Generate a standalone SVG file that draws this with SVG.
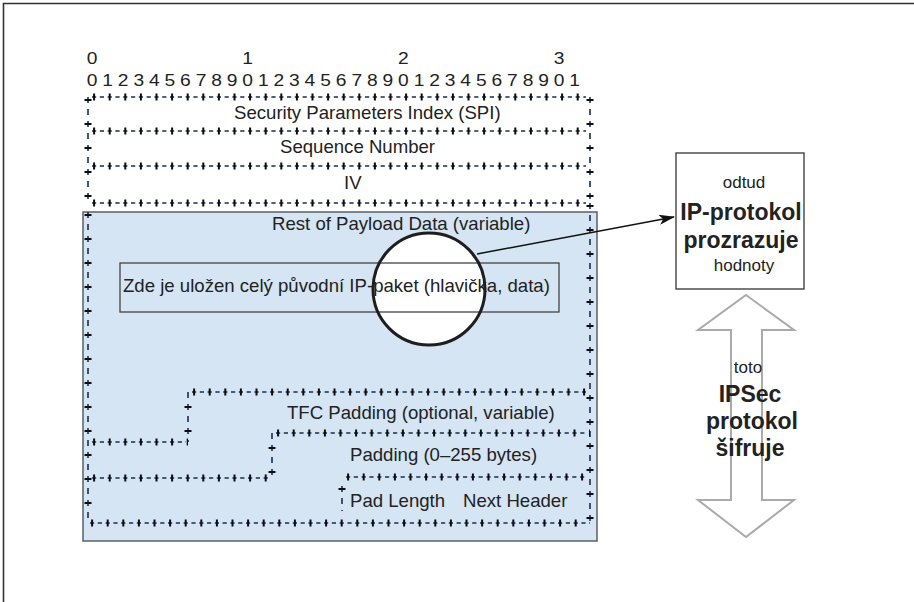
<svg xmlns="http://www.w3.org/2000/svg" width="914" height="602" viewBox="0 0 914 602">
<defs>
<style>
text{font-family:"Liberation Sans",Arial,Helvetica,sans-serif;fill:#222}
.num{font-size:16px;text-anchor:middle}
.lbl{font-size:18.6px}
.h{stroke:#1b2d4e;stroke-width:1.5;stroke-dasharray:4.2 3.6;fill:none}
.ht{stroke:#0d0d0d;stroke-width:7;stroke-dasharray:2 13.6;fill:none}
.v{stroke:#1b2d4e;stroke-width:1.6;stroke-dasharray:6 6;fill:none}
.vt{stroke:#0d0d0d;stroke-width:7;stroke-dasharray:1.8 22.2;fill:none}
.big{font-size:23px;font-weight:bold;text-anchor:middle}
.sm{font-size:17px;text-anchor:middle}
</style>
<marker id="ah" markerWidth="16" markerHeight="10" refX="15" refY="5" orient="auto" markerUnits="userSpaceOnUse">
<path d="M0,0 L16,5 L0,10 L4,5 Z" fill="#111"/>
</marker>
</defs>
<rect width="914" height="602" fill="#fff"/>
<path d="M3.5,602 V3.5 H914" fill="none" stroke="#333" stroke-width="1.6"/>

<g id="bit-numbers" transform="scale(1.2,1)">
<text class="num" x="76.7" y="64">0</text>
<text class="num" x="206.4" y="64">1</text>
<text class="num" x="336.2" y="64">2</text>
<text class="num" x="465.9" y="64">3</text>
<text class="num" y="86"><tspan x="76.7">0</tspan><tspan x="89.7">1</tspan><tspan x="102.6">2</tspan><tspan x="115.6">3</tspan><tspan x="128.6">4</tspan><tspan x="141.6">5</tspan><tspan x="154.5">6</tspan><tspan x="167.5">7</tspan><tspan x="180.5">8</tspan><tspan x="193.4">9</tspan><tspan x="206.4">0</tspan><tspan x="219.4">1</tspan><tspan x="232.3">2</tspan><tspan x="245.3">3</tspan><tspan x="258.3">4</tspan><tspan x="271.3">5</tspan><tspan x="284.3">6</tspan><tspan x="297.3">7</tspan><tspan x="310.3">8</tspan><tspan x="323.2">9</tspan><tspan x="336.2">0</tspan><tspan x="349.2">1</tspan><tspan x="362.1">2</tspan><tspan x="375.1">3</tspan><tspan x="388.1">4</tspan><tspan x="401.1">5</tspan><tspan x="414">6</tspan><tspan x="427">7</tspan><tspan x="440">8</tspan><tspan x="452.9">9</tspan><tspan x="465.9">0</tspan><tspan x="478.9">1</tspan></text>
</g>

<g id="payload-area">
<rect x="83" y="212" width="514" height="329" fill="#d5e5f4" stroke="#5a6068" stroke-width="1.5"/>
<circle cx="429" cy="289" r="56" fill="#fff"/>
</g>

<g id="header-rows">
<path class="h" d="M92,97 H586 M92,131 H586 M92,166 H586 M92,203 H586"/>
<path class="ht" d="M93.1,97 H586 M93.1,131 H586 M93.1,166 H586 M93.1,203 H586"/>
<path class="v" d="M88,97 V203 M590,97 V203"/>
<path class="vt" d="M88,99.1 V203 M590,99.1 V203"/>
<text class="lbl" x="234" y="119">Security Parameters Index (SPI)</text>
<text class="lbl" x="280" y="153">Sequence Number</text>
<text class="lbl" x="344" y="189">IV</text>
</g>

<g id="payload-rows">
<path class="v" d="M88,212 V523 M590,203 V523 M188,392 V442 M272,433 V478 M342,486 V511"/>
<path class="vt" d="M88,214.1 V523 M590,205.1 V523 M188,406.1 V442 M272,447.1 V478 M342,488.1 V511"/>
<path class="h" d="M192,392 H586 M92,442 H186 M276,433 H586 M92,478 H270 M346,477 H586 M90,523 H590"/>
<path class="ht" d="M193.1,392 H590 M93.1,442 H188 M277.1,433 H590 M93.1,478 H272 M347.1,477 H590 M91.1,523 H590"/>
<text class="lbl" x="272" y="230">Rest of Payload Data (variable)</text>
<text class="lbl" x="287" y="419">TFC Padding (optional, variable)</text>
<text class="lbl" x="350" y="461">Padding (0–255 bytes)</text>
<text class="lbl" x="350" y="507">Pad Length</text>
<text class="lbl" x="463" y="507">Next Header</text>
</g>

<g id="ip-packet">
<rect x="120" y="263" width="439" height="49" fill="none" stroke="#444" stroke-width="1.3"/>
<text class="lbl" x="123" y="292">Zde je uložen celý původní IP-paket (hlavička, data)</text>
</g>

<g id="lens">
<circle cx="429" cy="289" r="56" fill="none" stroke="#1e1e1e" stroke-width="3"/>
</g>

<g id="connectors">
<line x1="477" y1="254" x2="674" y2="217" stroke="#111" stroke-width="1.5" marker-end="url(#ah)"/>
</g>

<g id="ip-box">
<rect x="676" y="153" width="128" height="136" fill="#fff" stroke="#333" stroke-width="1.3"/>
<text class="sm" x="744" y="188">odtud</text>
<text class="big" x="741" y="220">IP-protokol</text>
<text class="big" x="741" y="248">prozrazuje</text>
<text class="sm" x="744" y="271">hodnoty</text>
</g>

<g id="ipsec-arrow">
<path d="M746,295 L794,330 L762,330 L762,500 L794,500 L746,537 L698,500 L731,500 L731,330 L698,330 Z" fill="none" stroke="#aaa" stroke-width="2"/>
<text class="sm" x="748" y="373">toto</text>
<text class="big" x="750" y="402">IPSec</text>
<text class="big" x="752" y="429">protokol</text>
<text class="big" x="750" y="456">šifruje</text>
</g>
</svg>
